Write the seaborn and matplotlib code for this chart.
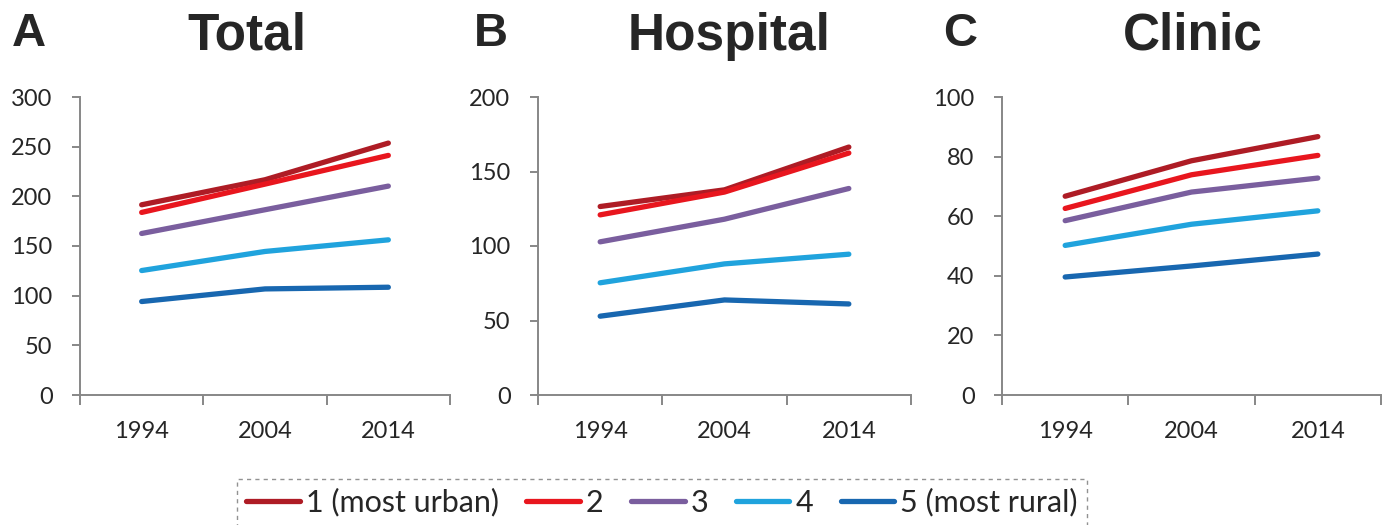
import matplotlib
matplotlib.use("Agg")
import matplotlib.pyplot as plt
import seaborn as sns
import pandas as pd
from matplotlib.lines import Line2D

sns.set_theme(style="white")
plt.rcParams['font.family'] = ['Lato', 'DejaVu Sans']

years = ["1994", "2004", "2014"]
groups = ["1 (most urban)", "2", "3", "4", "5 (most rural)"]
colors = ["#AE1C25", "#E8161E", "#7A5E9E", "#20A3DD", "#1867B0"]

total_1 = [191.5, 216.7, 253.6]
total_2 = [183.8, 212.3, 241.2]
total_3 = [162.6, 186.5, 210.3]
total_4 = [125.3, 144.5, 156.2]
total_5 = [94.1, 106.8, 108.5]

hospital_1 = [126.5, 137.7, 166.4]
hospital_2 = [120.9, 136.2, 162.4]
hospital_3 = [102.8, 118.0, 138.6]
hospital_4 = [75.3, 88.0, 94.5]
hospital_5 = [52.9, 63.8, 61.1]

clinic_1 = [66.7, 78.6, 86.7]
clinic_2 = [62.6, 73.9, 80.4]
clinic_3 = [58.5, 68.1, 72.8]
clinic_4 = [50.2, 57.3, 61.8]
clinic_5 = [39.6, 43.3, 47.3]

panels = [
    ("A", "Total", [total_1, total_2, total_3, total_4, total_5], 300, 50),
    ("B", "Hospital", [hospital_1, hospital_2, hospital_3, hospital_4, hospital_5], 200, 50),
    ("C", "Clinic", [clinic_1, clinic_2, clinic_3, clinic_4, clinic_5], 100, 20),
]

W, H = 1388, 525
fig = plt.figure(figsize=(W / 100, H / 100), dpi=100)

axes_px = [(80, 450), (538, 911), (1002, 1381)]
top_px, bot_px = 97, 395
title_x = [247, 729, 1193]
letter_x = [29, 491, 960]

spine_col = "#878787"
for (letter, title, series, ymax, ystep), (l, r), tx, lx in zip(panels, axes_px, title_x, letter_x):
    ax = fig.add_axes([l / W, 1 - bot_px / H, (r - l) / W, (bot_px - top_px) / H])
    rows = []
    for g, vals in zip(groups, series):
        for y, v in zip(years, vals):
            rows.append({"year": y, "group": g, "value": v})
    df = pd.DataFrame(rows)
    sns.lineplot(data=df, x="year", y="value", hue="group", palette=colors,
                 hue_order=groups, linewidth=3.8, ax=ax, legend=False,
                 solid_capstyle="round")
    ax.set_xlim(-0.5, 2.5)
    ax.set_ylim(0, ymax)
    ax.set_yticks(range(0, ymax + 1, ystep))
    ax.set_xlabel("")
    ax.set_ylabel("")
    for s in ["top", "right"]:
        ax.spines[s].set_visible(False)
    for s in ["left", "bottom"]:
        ax.spines[s].set_color(spine_col)
        ax.spines[s].set_linewidth(1.4)
    ax.set_xticks([0, 1, 2])
    ax.set_xticks([-0.5, 0.5, 1.5, 2.5], minor=True)
    ax.tick_params(axis="x", which="major", length=0, pad=19, labelsize=17)
    ax.tick_params(axis="x", which="minor", length=7.2, width=1.4, color=spine_col, direction="out", bottom=True)
    ax.tick_params(axis="y", which="major", length=5.8, width=1.4, color=spine_col, direction="out", left=True, labelsize=17, pad=14)
    fig.text(tx / W, 1 - 50 / H, title, ha="center", va="baseline", fontsize=37,
             fontweight="bold", family=["Liberation Sans", "DejaVu Sans"])
    fig.text(lx / W, 1 - 46 / H, letter, ha="center", va="baseline", fontsize=34,
             fontweight="bold", family=["Liberation Sans", "DejaVu Sans"])

handles = [Line2D([0], [0], color=c, lw=3.8, solid_capstyle="round") for c in colors]
leg = fig.legend(handles, groups, loc="upper center", bbox_to_anchor=(662 / W, 1 - 479 / H),
                 ncol=5, fontsize=22, frameon=True, fancybox=False, handlelength=1.75,
                 handletextpad=0.2, columnspacing=0.9, borderpad=0.3, borderaxespad=0)
fr = leg.get_frame()
fr.set_edgecolor("#777777")
fr.set_linestyle((0, (3, 3)))
fr.set_linewidth(1.0)

fig.savefig("out.png", dpi=100)
